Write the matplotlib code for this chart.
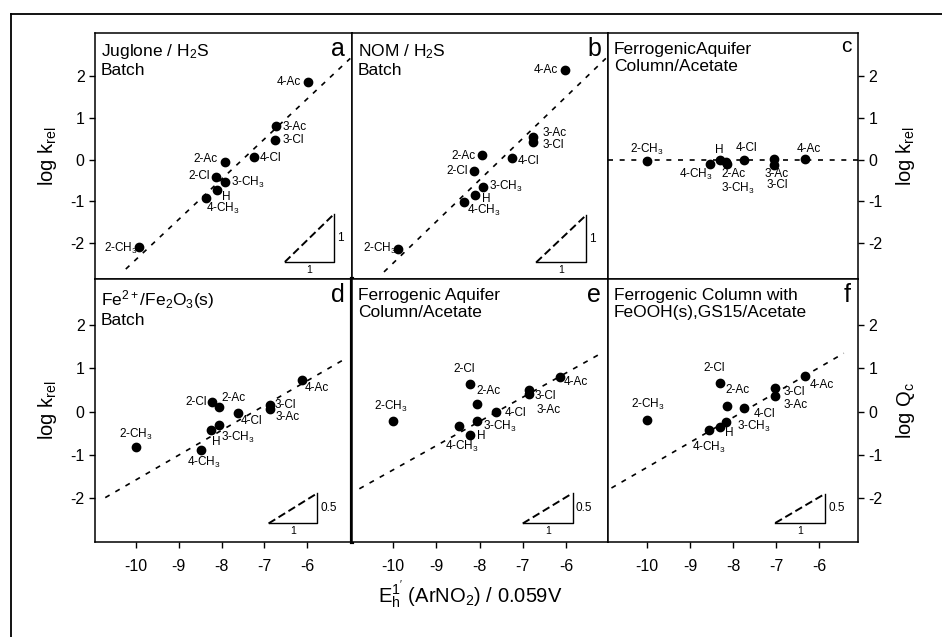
import numpy as np
import matplotlib
matplotlib.use("Agg")
import matplotlib.pyplot as plt
from matplotlib.lines import Line2D

plt.rcParams['font.family'] = ['Liberation Sans', 'DejaVu Sans']
plt.rcParams['mathtext.fontset'] = 'custom'
plt.rcParams['mathtext.rm'] = 'Liberation Sans'
plt.rcParams['mathtext.it'] = 'Liberation Sans:italic'
plt.rcParams['mathtext.default'] = 'regular'
plt.rcParams['axes.unicode_minus'] = False

# substituents, same order in every panel
compounds = ['2-CH$_3$', '3-CH$_3$', '4-CH$_3$', 'H', '2-Cl',
             '3-Cl', '4-Cl', '2-Ac', '3-Ac', '4-Ac']

# E_h^1'(ArNO2)/0.059V and log k_rel (log Q_c for f)
x_a = [-9.92, -7.92, -8.36, -8.10, -8.12, -6.74, -7.24, -7.93, -6.73, -5.97]
y_a = [-2.11, -0.53, -0.92, -0.72, -0.43, 0.48, 0.07, -0.07, 0.80, 1.86]
x_b = [-9.88, -7.92, -8.37, -8.11, -8.12, -6.76, -7.25, -7.95, -6.76, -6.03]
y_b = [-2.14, -0.67, -1.03, -0.84, -0.27, 0.42, 0.03, 0.10, 0.54, 2.14]
x_c = [-9.99, -8.14, -8.54, -8.31, np.nan, -7.05, -7.75, -8.16, -7.05, -6.32]
y_c = [-0.03, -0.11, -0.11, -0.02, np.nan, -0.12, -0.02, -0.06, 0.01, 0.02]
x_d = [-10.0, -8.06, -8.49, -8.24, -8.23, -6.86, -7.62, -8.05, -6.86, -6.11]
y_d = [-0.82, -0.32, -0.88, -0.42, 0.23, 0.16, -0.04, 0.10, 0.05, 0.74]
x_e = [-10.0, -8.06, -8.48, -8.21, -8.21, -6.86, -7.63, -8.06, -6.86, -6.13]
y_e = [-0.22, -0.22, -0.33, -0.55, 0.64, 0.49, -0.01, 0.18, 0.41, 0.81]
x_f = [-10.0, -8.17, -8.55, -8.30, -8.30, -7.02, -7.74, -8.15, -7.02, -6.33]
y_f = [-0.20, -0.23, -0.42, -0.36, 0.66, 0.54, 0.08, 0.14, 0.37, 0.82]

# regression lines: slope, intercept, x from, x to
fit_a = (0.964, 7.24, -10.24, -4.99)
fit_b = (1.0, 7.51, -10.21, -5.08)
fit_c = (0.0, 0.0, -10.9, -5.1)
fit_d = (0.573, 4.15, -10.72, -5.10)
fit_e = (0.561, 4.26, -10.78, -5.20)
fit_f = (0.579, 4.495, -10.82, -5.43)

titles = ['Juglone / H$_2$S\nBatch', 'NOM / H$_2$S\nBatch',
          'FerrogenicAquifer\nColumn/Acetate',
          'Fe$^{2+}$/Fe$_2$O$_3$(s)\nBatch', 'Ferrogenic Aquifer\nColumn/Acetate',
          'Ferrogenic Column with\nFeOOH(s),GS15/Acetate']
letters = ['a', 'b', 'c', 'd', 'e', 'f']

# slope triangles: x0, y0, x1, y1 and the labels (run, rise)
tri_a = (-6.52, -2.46, -5.37, -1.31, '1', '1')
tri_b = (-6.69, -2.47, -5.53, -1.33, '1', '1')
tri_d = (-6.90, -2.59, -5.76, -1.89, '1', '0.5')
tri_e = (-7.00, -2.59, -5.85, -1.89, '1', '0.5')
tri_f = (-7.02, -2.58, -5.86, -1.90, '1', '0.5')

# label offsets in pixels (dx, dy, ha)
lab_a = [(-2, -1, 'right'), (6, -1, 'left'), (17, -11, 'center'), (9, -7, 'center'),
         (-7, 1, 'right'), (7, 0, 'left'), (6, -1, 'left'), (-7, 3, 'right'),
         (7, -1, 'left'), (-7, 0, 'right')]
lab_b = [(-1, 0, 'right'), (6, 1, 'left'), (20, -8, 'center'), (11, -4, 'center'),
         (-6, 0, 'right'), (9, -3, 'left'), (6, -3, 'left'), (-6, -1, 'right'),
         (9, 4, 'left'), (-7, 0, 'right')]
lab_c = [(0, 11, 'center'), (11, -24, 'center'), (-14, -10, 'center'), (0, 10, 'center'),
         None, (3, -20, 'center'), (3, 12, 'center'), (7, -12, 'center'),
         (3, -15, 'center'), (3, 10, 'center')]
lab_d = [(0, 13, 'center'), (2, -12, 'left'), (3, -13, 'center'), (5, -12, 'center'),
         (-5, 0, 'right'), (4, 0, 'left'), (3, -8, 'left'), (2, 9, 'left'),
         (5, -8, 'left'), (2, -8, 'left')]
lab_e = [(-2, 15, 'center'), (6, -5, 'left'), (3, -21, 'center'), (7, -1, 'left'),
         (-6, 15, 'center'), (6, -6, 'left'), (9, -1, 'left'), (-1, 13, 'left'),
         (8, -16, 'left'), (3, -5, 'left')]
lab_f = [(1, 16, 'center'), (11, -5, 'left'), (0, -18, 'center'), (9, -6, 'center'),
         (-6, 15, 'center'), (8, -4, 'left'), (9, -6, 'left'), (-1, 16, 'left'),
         (8, -9, 'left'), (5, -9, 'left')]

panels = [(x_a, y_a, fit_a, tri_a, lab_a), (x_b, y_b, fit_b, tri_b, lab_b),
          (x_c, y_c, fit_c, None, lab_c), (x_d, y_d, fit_d, tri_d, lab_d),
          (x_e, y_e, fit_e, tri_e, lab_e), (x_f, y_f, fit_f, tri_f, lab_f)]

W, H = 942, 637
col_l = [95, 352, 608]
col_r = [352, 608, 858]
row_t = [33, 279]
row_b = [279, 542]
xlims = [(-10.96, -4.95), (-10.95, -5.03), (-10.9, -5.1)]
ylims = [(-2.87, 3.04), (-3.02, 3.07)]

fig = plt.figure(figsize=(W / 100, H / 100), dpi=100)

# outer frame of the original figure
fig.add_artist(Line2D([11 / W, 11 / W], [-0.01, 1 - 14 / H], color='black', lw=1.3))
fig.add_artist(Line2D([11 / W, 1.01], [1 - 14 / H, 1 - 14 / H], color='black', lw=1.3))

for i, (xs, ys, fit, tri, labs) in enumerate(panels):
    r, c = divmod(i, 3)
    rect = [col_l[c] / W, 1 - row_b[r] / H, (col_r[c] - col_l[c]) / W, (row_b[r] - row_t[r]) / H]
    ax = fig.add_axes(rect)
    ax.set_xlim(*xlims[c])
    ax.set_ylim(*ylims[r])
    for s in ax.spines.values():
        s.set_linewidth(1.1)

    # fit line
    xx = np.array(fit[2:])
    ax.plot(xx, fit[0] * xx + fit[1], color='black', lw=1.2, ls=(0, (3, 4)))

    ax.plot(xs, ys, 'o', color='black', ms=6)
    for xv, yv, name, lab in zip(xs, ys, compounds, labs):
        if lab is None:
            continue
        ax.annotate(name, (xv, yv), xytext=(lab[0], lab[1]), textcoords='offset pixels',
                    ha=lab[2], va='center', fontsize=8.5)

    if tri is not None:
        x0, y0, x1, y1, run, rise = tri
        ax.plot([x0, x1, x1], [y0, y0, y1], color='black', lw=1.0)
        ax.plot([x0, x1], [y0, y1], color='black', lw=1.4, ls=(0, (4, 2)))
        ax.annotate(rise, (x1, (y0 + y1) / 2), xytext=(3, 0), textcoords='offset pixels',
                    ha='left', va='center', fontsize=8.5)
        ax.annotate(run, ((x0 + x1) / 2, y0), xytext=(0, -8), textcoords='offset pixels',
                    ha='center', va='center', fontsize=7.5)

    ax.text(6 / (col_r[c] - col_l[c]), 1 - 9 / (row_b[r] - row_t[r]), titles[i],
            transform=ax.transAxes, ha='left', va='top', fontsize=12.5, linespacing=1.2)
    ax.text(1 - 7 / (col_r[c] - col_l[c]), 1 - 4 / (row_b[r] - row_t[r]), letters[i],
            transform=ax.transAxes, ha='right', va='top', fontsize=15 if i == 2 else 18)

    # ticks
    ax.tick_params(direction='out', length=4, width=1, labelsize=11.5)
    yt = [-2, -1, 0, 1, 2]
    if c == 0:
        ax.set_yticks(yt)
        ax.set_ylabel('log k$_{rel}$', fontsize=14.5, labelpad=8)
    elif c == 2:
        ax.set_yticks(yt)
        ax.yaxis.tick_right()
        ax.yaxis.set_label_position('right')
        ax.set_ylabel('log k$_{rel}$' if r == 0 else 'log Q$_c$', fontsize=14.5,
                      labelpad=8, rotation=90)
    else:
        ax.set_yticks([])
    if r == 1:
        ax.set_xticks([-10, -9, -8, -7, -6])
        ax.tick_params(axis='x', pad=8)
    else:
        ax.set_xticks([])
    if i == 3:
        ax.spines['right'].set_linewidth(3)
        ax.spines['right'].set_zorder(5)

fig.text(470 / W, 1 - 595 / H, "E$_h^{1'}$ (ArNO$_2$) / 0.059V", ha='center', va='center',
         fontsize=14.5)

fig.savefig('out.png', dpi=100)
